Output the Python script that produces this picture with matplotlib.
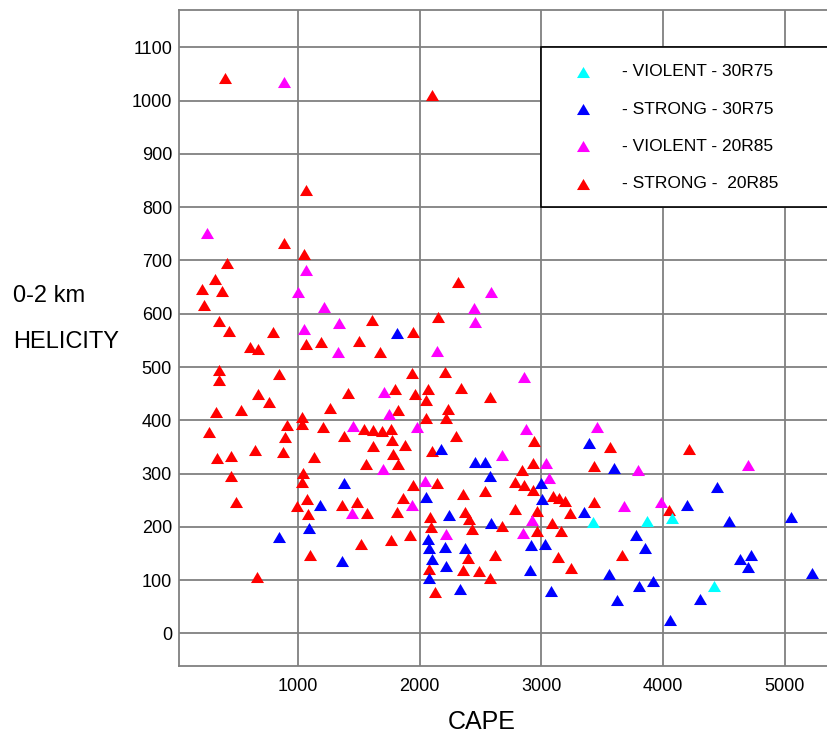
"""
CAPE vs 0-2 km helicity for strong / violent tornado soundings
"""

# Imports - standard
import matplotlib
matplotlib.use("Agg")
import matplotlib.pyplot as plt
from matplotlib.patches import Rectangle

# data - violent, 30R75
cape_violent_30r75 = [3427, 3868, 4076, 4418]
hel_violent_30r75 = [210, 211, 217, 89]

# data - strong, 30R75
cape_strong_30r75 = [1818, 2179, 2458, 2535, 3389, 3594, 2581, 3000, 4445, 2053,
                     3008, 4199, 3353, 2240, 4541, 5048, 2585, 2073, 3775, 2081,
                     2212, 2371, 2918, 3033, 3849, 2103, 4631, 4719, 4694, 2215,
                     2907, 2078, 3553, 5220, 3805, 3920, 2332, 3080, 3619, 4303,
                     4057, 1380, 1183, 1090, 849, 1361]
hel_strong_30r75 = [564, 347, 322, 322, 357, 311, 296, 282, 275, 256,
                    252, 241, 228, 223, 211, 218, 208, 178, 185, 161,
                    163, 161, 166, 167, 161, 140, 140, 148, 125, 126,
                    120, 105, 111, 113, 90, 99, 84, 80, 63, 64,
                    25, 282, 241, 198, 181, 136]

# data - violent, 20R85
cape_violent_20r85 = [888, 258, 1066, 1002, 1216, 1341, 1052, 2587, 2445, 2458,
                      1331, 1711, 1747, 1457, 1977, 1700, 1448, 1941, 2141, 2858,
                      2874, 3455, 2680, 3039, 3791, 4694, 3061, 2048, 3679, 3985,
                      2924, 2220, 2847]
hel_violent_20r85 = [1035, 751, 682, 641, 612, 583, 572, 641, 610, 584,
                     528, 453, 412, 390, 388, 309, 226, 241, 531, 481,
                     384, 387, 334, 320, 307, 317, 291, 287, 239, 247,
                     213, 186, 189]

# data - strong, 20R85
cape_strong_20r85 = [403, 2102, 1068, 888, 1052, 417, 318, 2316, 214, 378,
                     231, 2149, 351, 1610, 438, 800, 1944, 608, 671, 1066,
                     1191, 1506, 1678, 1941, 356, 356, 849, 2212, 2341, 674,
                     762, 1416, 1799, 1963, 2067, 2053, 2576, 329, 532, 1265,
                     1826, 2231, 2218, 2053, 1038, 1038, 915, 1205, 1544, 1616,
                     1690, 1764, 274, 1380, 893, 2302, 1621, 1774, 1884, 2943,
                     3564, 4210, 2103, 335, 450, 647, 877, 1134, 1785, 1558,
                     1821, 2934, 3430, 1046, 1035, 450, 2844, 2141, 1949, 2781,
                     2858, 2929, 2360, 2541, 1867, 493, 992, 1079, 1366, 1484,
                     1569, 1087, 1813, 3098, 3143, 3197, 3430, 4046, 3238, 2781,
                     2376, 2967, 2089, 2404, 2677, 3088, 2092, 2431, 2962, 3164,
                     1520, 1766, 1922, 1101, 663, 2396, 2623, 3140, 3660, 2078,
                     2355, 2491, 3246, 2581, 2130]
hel_strong_20r85 = [1042, 1010, 832, 733, 712, 696, 666, 660, 646, 643,
                    616, 594, 586, 588, 568, 566, 566, 537, 533, 543,
                    547, 549, 529, 489, 494, 476, 486, 490, 461, 449,
                    434, 452, 459, 449, 458, 438, 444, 416, 419, 424,
                    419, 421, 404, 404, 406, 394, 392, 388, 383, 381,
                    380, 383, 378, 370, 368, 371, 352, 364, 353, 361,
                    349, 347, 342, 329, 333, 344, 340, 332, 337, 318,
                    318, 319, 314, 302, 284, 295, 307, 283, 278, 285,
                    278, 269, 262, 267, 255, 247, 239, 252, 241, 247,
                    226, 225, 228, 258, 254, 249, 247, 232, 226, 233,
                    228, 230, 218, 214, 201, 208, 199, 196, 193, 193,
                    168, 175, 185, 148, 106, 141, 148, 143, 147, 121,
                    120, 118, 122, 104, 78]

LABELS = ['- VIOLENT - 30R75', '- STRONG - 30R75',
          '- VIOLENT - 20R85', '- STRONG -  20R85']
X_TICKS = [1000, 2000, 3000, 4000, 5000]
Y_TICKS = list(range(0, 1101, 100))

# settings - plotting
X_LIMITS = [25, 5345]
Y_LIMITS = [-61, 1170]
GRID_COLOR = '#808080'
MARKER = [(0, 0.85), (-1, -0.85), (1, -0.85)]  # squat triangle
MS = 88


def main():

    plt.rcParams['font.family'] = ['Liberation Sans', 'DejaVu Sans']

    # create figure
    fig = plt.figure(figsize=(8.27, 7.35), dpi=100)
    ax = fig.add_axes([0.2164, 0.0939, 0.7836, 0.8925])

    # plot points (red drawn first, cyan on top)
    h_s20 = ax.scatter(cape_strong_20r85, hel_strong_20r85, s=MS, marker=MARKER,
                       color='#ff0000', linewidths=0, zorder=3)
    h_v20 = ax.scatter(cape_violent_20r85, hel_violent_20r85, s=MS, marker=MARKER,
                       color='#ff00ff', linewidths=0, zorder=3)
    h_s30 = ax.scatter(cape_strong_30r75, hel_strong_30r75, s=MS, marker=MARKER,
                       color='#0000ff', linewidths=0, zorder=3)
    h_v30 = ax.scatter(cape_violent_30r75, hel_violent_30r75, s=MS, marker=MARKER,
                       color='#00ffff', linewidths=0, zorder=3)

    # axes / grid
    ax.set_xlim(X_LIMITS)
    ax.set_ylim(Y_LIMITS)
    ax.set_xticks(X_TICKS)
    ax.set_yticks(Y_TICKS)
    ax.set_axisbelow(True)
    ax.grid(True, color=GRID_COLOR, linewidth=1.3)
    ax.tick_params(axis='both', length=0, labelsize=13, colors='black')
    ax.tick_params(axis='y', pad=5)
    ax.tick_params(axis='x', pad=9)
    for side in ['left', 'bottom', 'top']:
        ax.spines[side].set_color(GRID_COLOR)
        ax.spines[side].set_linewidth(1.3)
    ax.spines['right'].set_visible(False)

    # legend box (covers the grid in the upper right)
    ax.add_patch(Rectangle((3000, 800), 3000, 300, facecolor='white',
                           edgecolor='black', linewidth=1.2, zorder=2))
    ax.legend([h_v30, h_s30, h_v20, h_s20], LABELS, loc='upper left',
              bbox_to_anchor=(566 / 827, 1 - 64 / 735),
              bbox_transform=fig.transFigure, frameon=False, borderaxespad=0,
              borderpad=0, handlelength=2, handletextpad=1.2,
              labelspacing=1.28, markerscale=1.0, fontsize=12.5)

    # axis labels
    fig.text(13 / 827, 1 - 296 / 735, '0-2 km', ha='left', va='center',
             fontsize=17)
    fig.text(13 / 827, 1 - 342 / 735, 'HELICITY', ha='left', va='center',
             fontsize=17)
    fig.text(482 / 827, 1 - 722 / 735, 'CAPE', ha='center', va='center',
             fontsize=18)

    # save figure
    fig.savefig('out.png', dpi=100)


if __name__ == "__main__":
    main()
